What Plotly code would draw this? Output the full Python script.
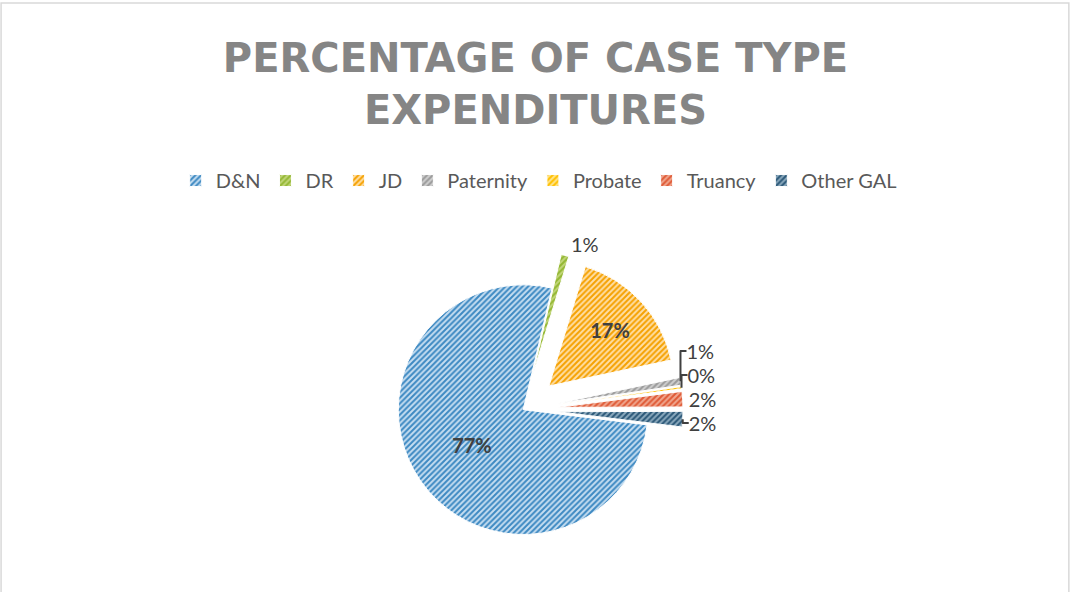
import plotly.graph_objects as go

categories = ["D&N", "DR", "JD", "Paternity", "Probate", "Truancy", "Other GAL"]
values = [77, 1, 17, 1, 0.3, 2, 2]
bg_colors = ["#c6def1", "#c2d67a", "#ffdfa6", "#cfcfcf", "#ffe48a", "#f0a78f", "#8ba9bd"]
fg_colors = ["#3d89c2", "#93b733", "#f5a100", "#9a9a9a", "#ffc000", "#df5a36", "#2a5777"]
pulls = [0, 0.28, 0.28, 0.28, 0.28, 0.28, 0.28]
templates = ["<b>%{percent:.0%}</b>", "%{percent:.0%}", "<b>%{percent:.0%}</b>",
             "%{percent:.0%}", "%{percent:.0%}", "%{percent:.0%}", "%{percent:.0%}"]
positions = ["inside", "outside", "inside", "outside", "outside", "outside", "outside"]

fig = go.Figure(go.Pie(
    labels=categories,
    values=values,
    sort=False,
    direction="clockwise",
    rotation=97,
    pull=pulls,
    texttemplate=templates,
    textposition=positions,
    insidetextorientation="horizontal",
    automargin=False,
    insidetextfont=dict(family="Lato", size=20, color="#404040"),
    outsidetextfont=dict(family="Lato", size=20, color="#404040"),
    marker=dict(
        colors=bg_colors,
        line=dict(color="white", width=1),
        pattern=dict(shape="/", fgcolor=fg_colors, bgcolor=bg_colors,
                     size=4, solidity=0.5, fillmode="replace"),
    ),
    domain=dict(x=[0.191, 0.786], y=[0.038, 0.578]),
    hoverinfo="label+percent",
))

fig.update_layout(
    width=1071, height=592,
    margin=dict(l=0, r=0, t=0, b=0, autoexpand=False),
    paper_bgcolor="white",
    title=dict(
        text="PERCENTAGE OF CASE TYPE<br>EXPENDITURES",
        x=0.5, xanchor="center", y=0.879, yanchor="middle", yref="container",
        font=dict(family="DejaVu Sans", size=40, color="#858585", weight="bold"),
    ),
    legend=dict(
        orientation="h", x=0.503, xanchor="center", y=0.695, yanchor="middle",
        font=dict(family="Lato", size=20, color="#595959"),
        traceorder="normal",
    ),
    shapes=[dict(type="rect", xref="paper", yref="paper", x0=0.001, x1=0.998, y0=-0.01, y1=0.995,
                 line=dict(color="#d9d9d9", width=1.5), fillcolor="rgba(0,0,0,0)", layer="below")],
)

fig.write_html("out.html", post_script="document.body.style.margin='0';",
               config={"displayModeBar": False})
